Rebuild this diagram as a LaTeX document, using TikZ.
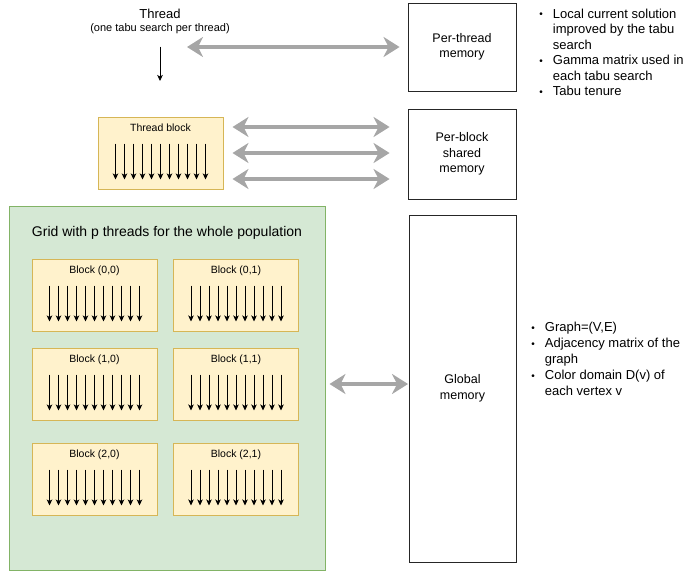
\documentclass[tikz,border=0pt]{standalone}
\usepackage{fontspec}
\setmainfont{Liberation Sans}
\usetikzlibrary{positioning, arrows.meta}
\tikzstyle{canvas} = [x = 1pt, y = -1pt]
\definecolor{blockFill}{HTML}{FFF2CC}
\definecolor{blockLine}{HTML}{D6B656}
\definecolor{gridFill}{HTML}{D5E8D4}
\definecolor{gridLineColor}{HTML}{82B366}
\definecolor{memArrowColor}{HTML}{A6A6A6}
\tikzstyle{blockStyle} = [draw=blockLine, fill=blockFill, line width=1pt, minimum width=125pt, minimum height=72pt, inner sep=0pt]
\tikzstyle{blockText} = [font=\fontsize{10.5}{12}\selectfont, inner sep=0pt]
\tikzstyle{gridStyle} = [draw=gridLineColor, fill=gridFill, line width=1pt, minimum width=316pt, minimum height=364pt, inner sep=0pt]
\tikzstyle{memStyle} = [draw=black!85, line width=0.9pt, inner sep=0pt, align=center, font=\fontsize{12.5}{15.5}\selectfont]
\tikzstyle{bulletText} = [anchor=west, inner sep=0pt, font=\fontsize{13}{15.5}\selectfont]
\tikzstyle{threadArrow} = [-{Stealth[length=6pt, width=5.5pt, inset=1.5pt]}, line width=0.8pt, black]
\tikzstyle{memArrow} = [{Stealth[length=16pt, width=20pt, inset=5pt]}-{Stealth[length=16pt, width=20pt, inset=5pt]}, line width=4.5pt, color=memArrowColor]
\newcommand{\memBullet}{\raisebox{0.5pt}{\fontsize{10}{10}\selectfont\textbullet}}
\newcommand{\threadArrows}[1]{
  \foreach \k in {0,...,10} {
    \pgfmathsetmacro{\var}{\k * 9 - 45}
    \draw [threadArrow] ([xshift=\var pt, yshift=-27pt]#1.north) -- ([xshift=\var pt, yshift=10pt]#1.south);
  }
}
\newcommand{\gpuBlock}[4]{
  \node [blockStyle] (#1) at (#2, #3) {};
  \node [blockText, below=7pt of #1.north] (#1Label) {#4};
  \threadArrows{#1}
}

\begin{document}
\begin{tikzpicture}[canvas]
    \useasboundingbox (0,0) rectangle (685,573);
    % thread
    \node [font=\fontsize{13}{15}\selectfont, inner sep=0pt] (thread) at (160,14) {Thread};
    \node [font=\fontsize{11}{12}\selectfont, inner sep=0pt, below=4pt of thread] (threadSub) {(one tabu search per thread)};
    \coordinate (threadEnd) at (160,81);
    \draw [threadArrow, shorten <=13pt] (threadSub.south) -- (threadEnd);
    \gpuBlock{threadBlock}{160.5}{153}{Thread block}
    % grid
    \node [gridStyle] (grid) at (167,388) {};
    \node [font=\fontsize{14}{16}\selectfont, inner sep=0pt] (gridLabel) at (167,233) {Grid with p threads for the whole population};
    \gpuBlock{blockA}{94.5}{295}{Block (0,0)}
    \gpuBlock{blockB}{236}{295}{Block (0,1)}
    \gpuBlock{blockC}{94.5}{384}{Block (1,0)}
    \gpuBlock{blockD}{236}{384}{Block (1,1)}
    \gpuBlock{blockE}{94.5}{479}{Block (2,0)}
    \gpuBlock{blockF}{236}{479}{Block (2,1)}
    % memories
    \node [memStyle, minimum width=108pt, minimum height=88pt] (perThread) at (462,47) {Per-thread\\memory};
    \node [memStyle, minimum width=108pt, minimum height=90pt] (perBlock) at (462,154) {Per-block\\shared\\memory};
    \node [memStyle, minimum width=107pt, minimum height=347pt] (global) at (462.5,388.5) {Global\\memory};
    \coordinate (threadMemEnd) at (187,47);
    \draw [memArrow, shorten >=8pt] (threadMemEnd) -- (perThread.west);
    \foreach \dy in {26,0,-26} {
      \draw [memArrow, shorten <=9pt, shorten >=18pt] ([yshift=\dy pt]threadBlock.east) -- ([yshift=\dy pt]threadBlock.east -| perBlock.west);
    }
    \draw [memArrow, shorten <=4pt, shorten >=0.5pt] ([yshift=4pt]grid.east) -- ([yshift=4pt]grid.east -| global.west);
    % notes
    \node [bulletText] (threadNotes) at (539.2,54) {\begin{tabular}{@{}c@{\hspace{10pt}}l@{}}
      \memBullet & Local current solution\\
       & improved by the tabu\\
       & search\\
      \memBullet & Gamma matrix used in\\
       & each tabu search\\
      \memBullet & Tabu tenure
    \end{tabular}};
    \node [bulletText, font=\fontsize{13}{16}\selectfont] (globalNotes) at (531.2,360.5) {\begin{tabular}{@{}c@{\hspace{10pt}}l@{}}
      \memBullet & Graph=(V,E)\\
      \memBullet & Adjacency matrix of the\\
       & graph\\
      \memBullet & Color domain D(v) of\\
       & each vertex v
    \end{tabular}};
    \end{tikzpicture}
\end{document}
